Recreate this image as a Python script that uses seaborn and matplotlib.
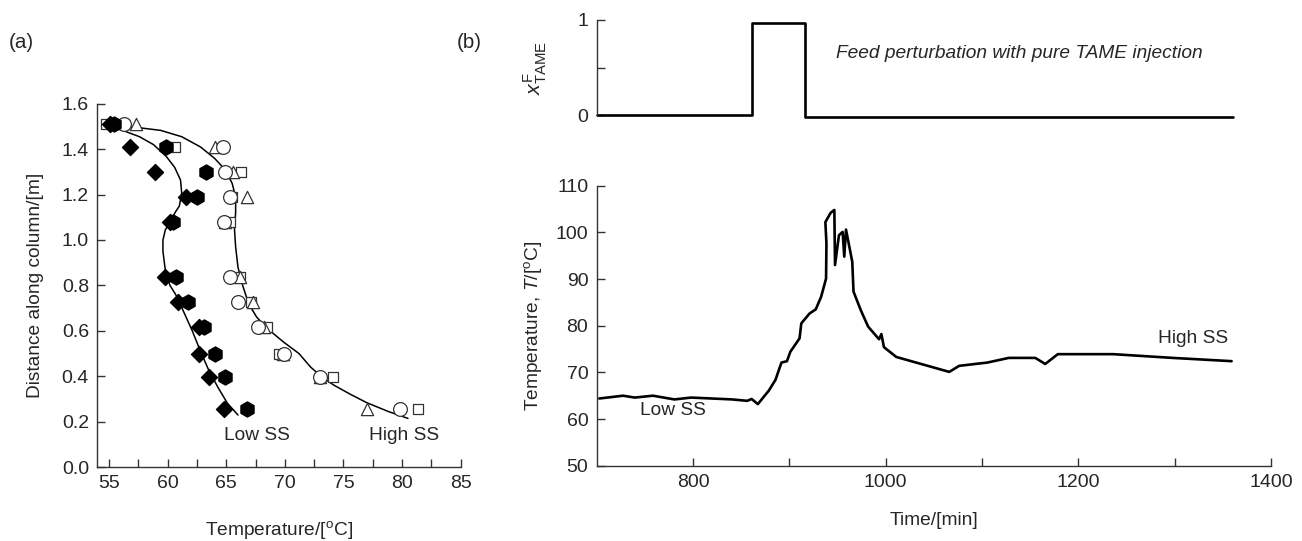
import matplotlib
matplotlib.use("Agg")
import matplotlib.pyplot as plt
import seaborn as sns
import pandas as pd
from matplotlib.ticker import MultipleLocator, FixedLocator

# ---------------- data: panel (a) ----------------
distance = [1.51, 1.41, 1.30, 1.19, 1.08, 0.835, 0.725, 0.615, 0.50, 0.395, 0.255]
t_diamond = [55.1, 56.8, 58.9, 61.6, 60.2, 59.8, 60.9, 62.7, 62.7, 63.5, 64.8]
t_hexagon = [55.4, 59.9, 63.3, 62.5, 60.5, 60.7, 61.7, 63.1, 64.0, 64.9, 66.8]
t_circle = [56.3, 64.7, 64.9, 65.3, 64.8, 65.3, 66.0, 67.7, 69.9, 73.0, 79.8]
t_square = [54.7, 60.6, 66.3, 65.5, 65.3, 66.2, 67.1, 68.5, 69.5, 74.1, 81.4]
t_triangle = [57.3, 64.0, 65.6, 66.8, 64.9, 66.2, 67.3, 68.2, 69.8, 73.0, 77.0]

low_curve_T = [55.1, 56.3, 57.6, 58.8, 59.9, 60.6, 61.1, 61.2, 61.0, 60.6, 60.2, 59.8,
               59.6, 59.6, 59.8, 60.2, 60.8, 61.4, 62.1, 62.8, 63.5, 64.3, 65.1, 66.0]
low_curve_D = [1.50, 1.48, 1.455, 1.42, 1.367, 1.32, 1.264, 1.206, 1.15, 1.118, 1.08, 1.044,
               1.0, 0.95, 0.868, 0.80, 0.75, 0.68, 0.60, 0.51, 0.427, 0.35, 0.281, 0.229]
high_curve_T = [55.1, 57.5, 59.4, 61.2, 62.8, 64.0, 64.9, 65.5, 65.8, 65.8, 65.7, 65.8, 66.0,
                66.4, 66.9, 67.6, 68.5, 69.9, 71.2, 72.2, 73.2, 74.2, 75.6, 77.0, 78.8, 80.5]
high_curve_D = [1.50, 1.495, 1.483, 1.455, 1.41, 1.36, 1.31, 1.25, 1.19, 1.12, 1.05, 0.97, 0.88,
                0.80, 0.72, 0.66, 0.61, 0.55, 0.50, 0.44, 0.395, 0.36, 0.32, 0.283, 0.245, 0.214]

# ---------------- data: panel (b) ----------------
feed_time = [700, 861.4, 861.4, 916.5, 916.5, 1361]
feed_x = [0.0, 0.0, 0.97, 0.97, -0.025, -0.025]

time_min = [702.7, 727.4, 739.5, 758.4, 780.7, 798, 840.8, 856.3, 860.8, 867.3, 878.7, 885.6,
            891.8, 897.5, 901, 910.6, 912.4, 920.9, 927.4, 933, 938.1, 938.5, 937.4, 942.9,
            946.7, 947.4, 951.5, 955.3, 957, 958.8, 965.3, 966.6, 974.2, 981.8, 993.1, 995.5,
            998.2, 1011, 1066, 1076.3, 1105.5, 1127.8, 1155.3, 1165.6, 1178.7, 1236.1, 1297.9, 1359.1]
temp_T = [64.4, 65.0, 64.6, 65.0, 64.2, 64.6, 64.2, 63.9, 64.3, 63.2, 66.1, 68.4,
          72.1, 72.4, 74.4, 77.3, 80.5, 82.6, 83.5, 86.2, 90.1, 97.6, 102.2, 104.2,
          104.8, 93.0, 99.4, 100.1, 94.8, 100.6, 93.7, 87.3, 83.3, 79.8, 77.1, 78.2,
          75.4, 73.3, 70.1, 71.4, 72.1, 73.1, 73.1, 71.8, 73.9, 73.9, 73.1, 72.4]

# ---------------- style ----------------
sns.set_style("ticks")
FONT = "Liberation Sans"
plt.rcParams["font.family"] = [FONT, "DejaVu Sans"]
plt.rcParams["mathtext.fontset"] = "custom"
plt.rcParams["mathtext.rm"] = FONT
plt.rcParams["mathtext.it"] = FONT + ":italic"
plt.rcParams["mathtext.bf"] = FONT + ":bold"
SPINE = "#333333"
FS = 13.8
TFS = 14

fig = plt.figure(figsize=(13.02, 5.41), dpi=100)
W, H = 1302.0, 541.0


def axes_px(x0, x1, ytop, ybot):
    return fig.add_axes([x0 / W, 1 - ybot / H, (x1 - x0) / W, (ybot - ytop) / H])


def style_axes(ax, spines=("left", "bottom")):
    for s in ["left", "right", "top", "bottom"]:
        if s in spines:
            ax.spines[s].set_color(SPINE)
            ax.spines[s].set_linewidth(1.0)
        else:
            ax.spines[s].set_visible(False)
    ax.tick_params(which="both", direction="in", length=6, width=1.0, color=SPINE,
                   labelsize=TFS, pad=6)
    ax.set_facecolor("white")


# ---------------- panel (a) ----------------
axa = axes_px(97.3, 460.7, 103.8, 467.0)
style_axes(axa)

sns.lineplot(x=low_curve_T, y=low_curve_D, sort=False, estimator=None, color="black",
             linewidth=1.1, ax=axa)
sns.lineplot(x=high_curve_T, y=high_curve_D, sort=False, estimator=None, color="black",
             linewidth=1.1, ax=axa)

series = [
    (t_square, "s", 62, "white"),
    (t_triangle, "^", 78, "white"),
    (t_circle, "o", 98, "white"),
    (t_diamond, "D", 68, "black"),
    (t_hexagon, "h", 120, "black"),
]
for temps, mk, size, face in series:
    df = pd.DataFrame({"T": temps, "D": distance})
    sns.scatterplot(data=df, x="T", y="D", marker=mk, s=size, color=face,
                    edgecolor="black" if face == "black" else "#333333",
                    linewidth=0.9, ax=axa, zorder=3, legend=False)

axa.set_xlim(54, 85)
axa.set_ylim(0, 1.6)
axa.xaxis.set_major_locator(FixedLocator([55, 60, 65, 70, 75, 80, 85]))
axa.xaxis.set_minor_locator(FixedLocator([57.5, 62.5, 67.5, 72.5, 77.5, 82.5]))
axa.yaxis.set_major_locator(MultipleLocator(0.2))
axa.yaxis.set_major_formatter(matplotlib.ticker.FormatStrFormatter("%.1f"))
axa.set_xlabel(r"Temperature/[$^{\mathrm{o}}$C]", fontsize=FS)
axa.set_ylabel("Distance along column/[m]", fontsize=FS)
axa.xaxis.set_label_coords(0.5, -0.142)
axa.yaxis.set_label_coords(-0.148, 0.5)
axa.text(67.6, 0.14, "Low SS", ha="center", va="center", fontsize=FS)
axa.text(80.2, 0.14, "High SS", ha="center", va="center", fontsize=FS)

# ---------------- panel (b) top ----------------
axt = axes_px(596.7, 1271.0, 20.0, 115.0)
style_axes(axt, spines=("left",))
sns.lineplot(x=feed_time, y=feed_x, sort=False, estimator=None, color="black",
             linewidth=1.9, ax=axt)
for ln in axt.lines:
    ln.set_clip_on(False)
axt.set_xlim(700, 1400)
axt.set_ylim(0, 1)
axt.set_yticks([0, 0.5, 1])
axt.set_yticklabels(["0", "", "1"])
axt.set_xticks([])
axt.tick_params(axis="x", which="both", bottom=False, labelbottom=False)
axt.set_ylabel(r"$x^{\mathrm{F}}_{\mathrm{TAME}}$", fontsize=FS + 1.5)
axt.yaxis.set_label_coords(-0.070, 0.5)
axt.text(1138.5, 0.65, "Feed perturbation with pure TAME injection", ha="center",
         va="center", fontsize=FS, style="italic")

# ---------------- panel (b) bottom ----------------
axb = axes_px(596.7, 1271.0, 185.7, 465.7)
style_axes(axb)
sns.lineplot(x=time_min, y=temp_T, sort=False, estimator=None, color="black",
             linewidth=1.9, ax=axb)
axb.set_xlim(700, 1400)
axb.set_ylim(50, 110)
axb.xaxis.set_major_locator(FixedLocator([800, 1000, 1200, 1400]))
axb.xaxis.set_minor_locator(FixedLocator([900, 1100, 1300]))
axb.yaxis.set_major_locator(MultipleLocator(10))
axb.set_xlabel("Time/[min]", fontsize=FS)
axb.set_ylabel(r"Temperature, $\mathit{T}$/[$^{\mathrm{o}}$C]", fontsize=FS)
axb.xaxis.set_label_coords(0.5, -0.165)
axb.yaxis.set_label_coords(-0.078, 0.5)
axb.text(779, 61.8, "Low SS", ha="center", va="center", fontsize=FS)
axb.text(1318.6, 77.3, "High SS", ha="center", va="center", fontsize=FS)

fig.text(21 / W, 1 - 42 / H, "(a)", ha="center", va="center", fontsize=FS + 1)
fig.text(469 / W, 1 - 42 / H, "(b)", ha="center", va="center", fontsize=FS + 1)

fig.savefig("out.png", dpi=100, facecolor="white")
